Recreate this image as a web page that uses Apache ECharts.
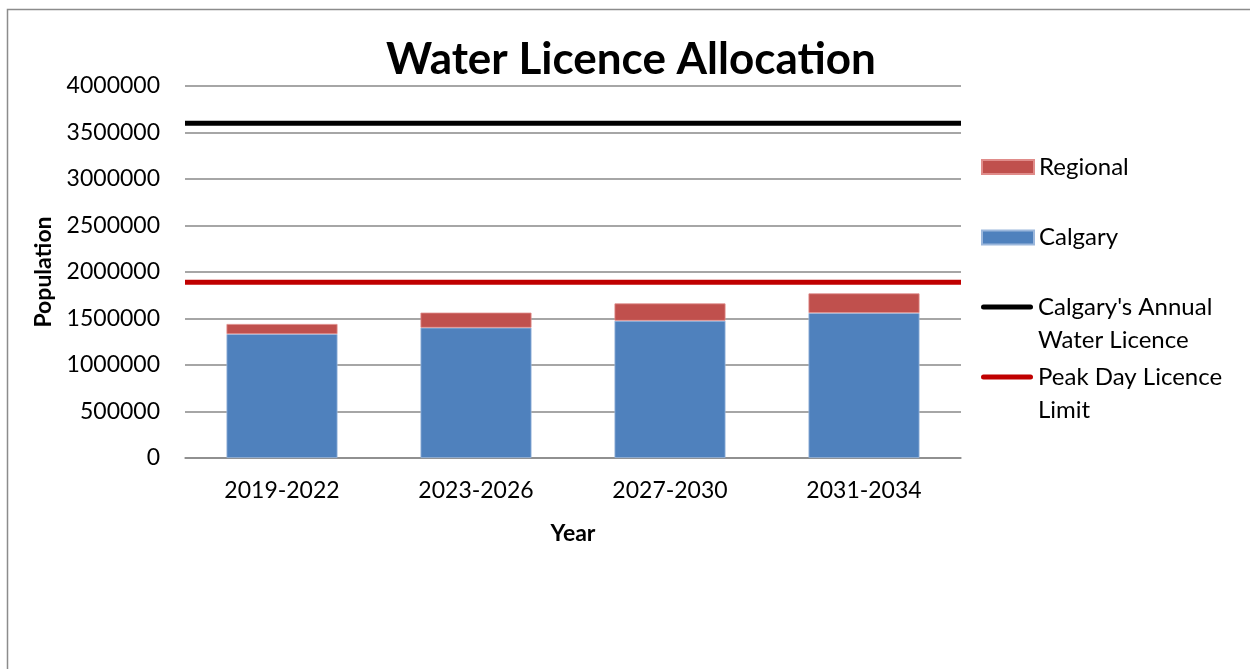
<!DOCTYPE html>
<html>
<head>
<meta charset="utf-8">
<script src="https://cdn.jsdelivr.net/npm/echarts@6/dist/echarts.min.js"></script>
<style>
html,body{margin:0;padding:0;background:#fff;}
#chart{width:1250px;height:669px;}
</style>
</head>
<body>
<div id="chart"></div>
<script>
// ---- data ----
const categories = ['2019-2022', '2023-2026', '2027-2030', '2031-2034'];
const calgary = [1333000, 1401000, 1476000, 1559000];
const regional = [108000, 162000, 186000, 211000];
const annualLicence = [3600000, 3600000];
const peakDayLimit = [1890000, 1890000];
const yTicks = [0, 500000, 1000000, 1500000, 2000000, 2500000, 3000000, 3500000, 4000000];

const FONT = 'Lato';
const chart = echarts.init(document.getElementById('chart'));

const LINE_ICON = 'path://M2.5,0 L49.5,0 A2.5,2.5 0 0 1 49.5,5 L2.5,5 A2.5,2.5 0 0 1 2.5,0 Z';

function legendItem(name, iconY, twoLine) {
  return {
    orient: 'vertical',
    left: 981,
    top: twoLine ? iconY - 49.5 : iconY - 16.5,
    padding: 0,
    itemWidth: 52,
    itemHeight: twoLine ? 5 : 14,
    itemGap: 0,
    selectedMode: false,
    icon: twoLine ? LINE_ICON : 'rect',
    data: [name],
    formatter: twoLine ? function (n) { return '\n' + n; } : undefined,
    textStyle: {
      fontFamily: FONT, fontSize: 24, color: '#000', lineHeight: 33
    }
  };
}

chart.setOption({
  animation: false,
  title: {
    text: 'Water Licence Allocation',
    left: 631, top: 38, padding: 0,
    textAlign: 'center',
    textStyle: { fontFamily: FONT, fontSize: 44, fontWeight: 'bold', color: '#000' }
  },
  graphic: [{
    type: 'polyline',
    shape: { points: [[7.5, 700], [7.5, 9.5], [1300, 9.5]] },
    style: { stroke: '#8c8c8c', lineWidth: 1.5, fill: null },
    silent: true
  }],
  legend: [
    legendItem('Regional', 167, false),
    legendItem('Calgary', 237.5, false),
    legendItem("Calgary's Annual\nWater Licence", 307, true),
    legendItem('Peak Day Licence\nLimit', 377, true)
  ],
  grid: { left: 185, right: 289, top: 86, bottom: 211 },
  xAxis: [{
    type: 'category',
    data: categories,
    name: 'Year',
    nameLocation: 'middle',
    nameGap: 64,
    nameTextStyle: { fontFamily: FONT, fontSize: 23, fontWeight: 'bold', color: '#000' },
    axisLine: { show: true, lineStyle: { color: '#898989', width: 1.5 } },
    axisTick: { show: false },
    axisLabel: { fontFamily: FONT, fontSize: 23, color: '#000', margin: 21 }
  }, {
    type: 'category',
    data: ['a', 'b'],
    boundaryGap: false,
    show: false,
    position: 'bottom'
  }],
  yAxis: {
    type: 'value',
    min: yTicks[0],
    max: yTicks[yTicks.length - 1],
    interval: yTicks[1] - yTicks[0],
    name: 'Population',
    nameLocation: 'middle',
    nameGap: 130,
    nameTextStyle: { fontFamily: FONT, fontSize: 23, fontWeight: 'bold', color: '#000' },
    axisLine: { show: false },
    axisTick: { show: false },
    splitLine: { lineStyle: { color: '#898989', width: 1.5 } },
    axisLabel: { fontFamily: FONT, fontSize: 23, color: '#000', margin: 25, formatter: function (v) { return String(v); } }
  },
  series: [{
    name: 'Calgary',
    type: 'bar',
    stack: 'pop',
    xAxisIndex: 0,
    barWidth: 111,
    data: calgary,
    itemStyle: { color: '#4F81BD', borderColor: '#9bb7dc', borderWidth: 0.8 }
  }, {
    name: 'Regional',
    type: 'bar',
    stack: 'pop',
    xAxisIndex: 0,
    barWidth: 111,
    data: regional,
    itemStyle: { color: '#C0504D', borderColor: '#e08c8a', borderWidth: 0.8 }
  }, {
    name: "Calgary's Annual\nWater Licence",
    type: 'line',
    xAxisIndex: 1,
    data: annualLicence,
    symbol: 'none',
    lineStyle: { color: '#000', width: 5 },
    itemStyle: { color: '#000' },
    z: 5
  }, {
    name: 'Peak Day Licence\nLimit',
    type: 'line',
    xAxisIndex: 1,
    data: peakDayLimit,
    symbol: 'none',
    lineStyle: { color: '#C00000', width: 5 },
    itemStyle: { color: '#C00000' },
    z: 5
  }]
});
</script>
</body>
</html>
